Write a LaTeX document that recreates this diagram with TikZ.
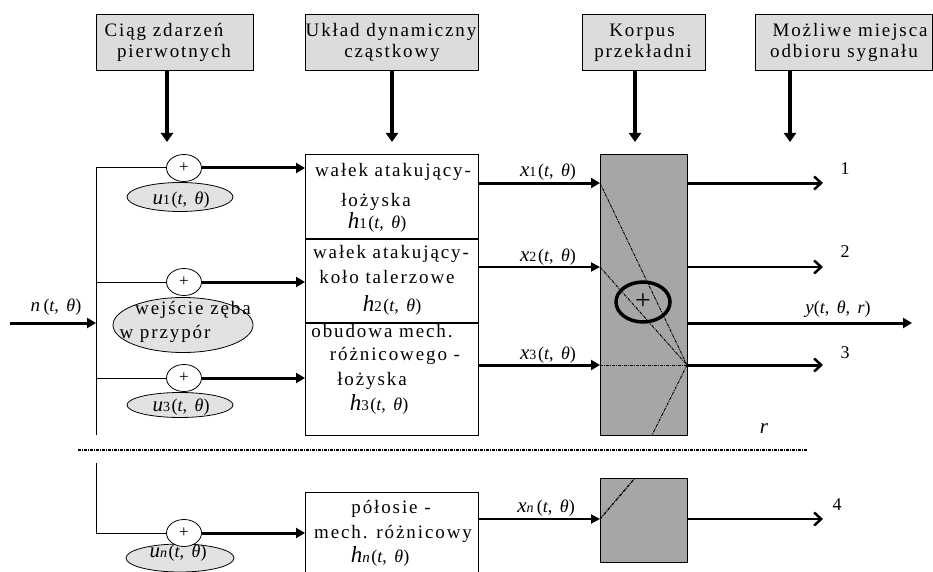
\documentclass[tikz,border=0pt]{standalone}
\usepackage{fontspec}
\setmainfont{Liberation Serif}
\newfontfamily\spaced[LetterSpace=10]{Liberation Serif}
\usetikzlibrary{shapes.geometric,arrows.meta,calc}
\newcommand\fs[1]{\fontsize{#1}{#1}\selectfont}
\newcommand\tth{\fs{18}(\textit{t},\, \textit{θ})}
\newcommand\vlab[2]{{\fs{21}\itshape #1}{\fs{14}#2}\,\tth}
\newcommand\hlab[1]{{\fs{23}\itshape h}{\fs{15}#1}\,\tth}
\definecolor{hdr}{HTML}{DCDCDC}
\definecolor{ell}{HTML}{E2E2E2}
\definecolor{korp}{HTML}{A6A6A6}
\begin{document}
\begin{tikzpicture}[x=1pt,y=-1pt,
  every node/.style={inner sep=0pt, outer sep=0pt},
  head/.style={draw, line width=1pt, fill=hdr, minimum height=56pt},
  txt/.style={anchor=base, font=\spaced\fs{19}},
  lab/.style={anchor=base},
  plus/.style={draw, ellipse, fill=white, line width=0.8pt, minimum width=35pt, minimum height=27pt, font=\fs{17}},
  gell/.style={draw, ellipse, fill=ell, line width=0.8pt},
  bigarrow/.style={line width=4pt, -{Triangle[length=9pt,width=12pt]}},
  midarrow/.style={line width=3pt, -{Triangle[length=9pt,width=10pt]}},
  thinarrow/.style={line width=1.8pt, -{Triangle[length=9pt,width=9pt]}},
  outarrow/.style={line width=#1, -{Straight Barb[length=7pt,width=13pt,line width=2.5pt]}},
  inner/.style={line width=0.9pt, dash pattern=on 3pt off 1pt on 1pt off 1pt},
  box/.style={draw, line width=1pt, fill=white},
  gbox/.style={draw, line width=1pt, fill=korp}]
\useasboundingbox (0,0) rectangle (933,572);
\clip (0,0) rectangle (933,572);

% header boxes
\node[head, minimum width=157pt] (h1) at (174.5,43) {};
\node[head, minimum width=173pt] (h2) at (391.5,43) {};
\node[head, minimum width=123pt] (h3) at (643.5,43) {};
\node[head, minimum width=177pt] (h4) at (843.5,43) {};
\node[txt] (h1a) at (164,37) {Ciąg zdarzeń};
\node[txt] (h1b) at (174,58) {pierwotnych};
\node[txt] (h2a) at (391,37) {Układ dynamiczny};
\node[txt] (h2b) at (392,58) {cząstkowy};
\node[txt] (h3a) at (642,37) {Korpus};
\node[txt] (h3b) at (643,58) {przekładni};
\node[txt] (h4a) at (850,37) {Możliwe miejsca};
\node[txt] (h4b) at (844,58) {odbioru sygnału};
\coordinate (a1) at (167,142);
\coordinate (a2) at (392,142);
\coordinate (a3) at (635,142);
\coordinate (a4) at (790,142);
\draw[bigarrow] (h1.south -| a1) -- (a1);
\draw[bigarrow] (h2.south -| a2) -- (a2);
\draw[bigarrow] (h3.south -| a3) -- (a3);
\draw[bigarrow] (h4.south -| a4) -- (a4);

% bus
\coordinate (busT) at (96,168);
\coordinate (busB) at (96,435);
\coordinate (busL) at (96,463);
\coordinate (busN) at (96,533);
\draw[line width=1pt] (busT) -- (busB);
\draw[line width=1pt] (busL) -- (busN);
\coordinate (inL) at (10,323);
\draw[midarrow] (inL) -- (inL -| busT);
\node[lab] (nlab) at (56,311) {{\fs{19}\itshape n}\,\,\tth};

% separator
\coordinate (sepL) at (78,450);
\coordinate (sepR) at (808,450);
\draw[line width=1.2pt, dash pattern=on 3pt off 1pt on 1pt off 1pt] (sepL) -- (sepR);

% gray ellipses
\node[gell, minimum width=106pt, minimum height=29pt] (u1) at (180,197) {};
\node[gell, minimum width=140pt, minimum height=55pt] (we) at (183,325) {};
\node[gell, minimum width=106pt, minimum height=25pt] (u3) at (180,405) {};
\node[gell, minimum width=108pt, minimum height=28pt] (un) at (180,558) {};
\node[lab] (u1t) at (181,204) {\vlab{u}{1}};
\node[lab] (u3t) at (181,411) {\vlab{u}{3}};

% plus nodes
\node[plus] (p1) at (184,168) {+};
\node[plus] (p2) at (184,282) {+};
\node[plus] (p3) at (184,378) {+};
\node[plus] (pn) at (184,533) {+};
\node[lab] (unt) at (178,557) {{\fs{21}\itshape u}{\fs{14}\itshape n}\,\tth};
\node[txt] (we1) at (193,314) {wejście zęba};
\node[txt] (we2) at (165,338) {w przypór};
\draw[line width=1pt] (busT) -- (p1.west);
\draw[line width=1pt] (p2 -| busT) -- (p2.west);
\draw[line width=1pt] (p3 -| busT) -- (p3.west);
\draw[line width=1pt] (busN) -- (pn.west);

% big box
\node[box, minimum width=173pt, minimum height=280pt] (B) at (391.5,295) {};
\node[txt] (t1a) at (393,176) {wałek atakujący-};
\node[txt] (t1b) at (376,206) {łożyska};
\node[lab] (t1c) at (377,228) {\hlab{1}};
\node[txt] (t2a) at (391,258) {wałek atakujący-};
\node[txt] (t2b) at (387,283) {koło talerzowe};
\node[lab] (t2c) at (392,311) {\hlab{2}};
\node[txt] (t3a) at (382,337) {obudowa mech.};
\node[txt] (t3b) at (395,360) {różnicowego -};
\node[txt] (t3c) at (372,385) {łożyska};
\node[lab] (t3d) at (379,410) {\hlab{3}};
\draw[line width=1.2pt] (B.west |- 0,239) -- (B.east |- 0,239);
\draw[line width=1.2pt] (B.west |- 0,323) -- (B.east |- 0,323);
\draw[midarrow] (p1.east) -- (p1.east -| B.west);
\draw[midarrow] (p2.east) -- (p2.east -| B.west);
\draw[midarrow] (p3.east) -- (p3.east -| B.west);

% lower box
\node[box, minimum width=173pt, minimum height=110pt] (N) at (391.5,547) {};
\node[txt] (tna) at (391,513) {półosie -};
\node[txt] (tnb) at (393,538) {mech. różnicowy};
\node[lab] (tnc) at (380,562) {{\fs{23}\itshape h}{\fs{15}\itshape n}\,\tth};
\draw[midarrow] (pn.east) -- (pn.east -| N.west);

% korpus
\node[gbox, minimum width=87pt, minimum height=280pt] (G) at (643.5,295) {};
\coordinate (g1) at (600,183);
\coordinate (g2) at (600,267);
\coordinate (g3) at (600,365);
\coordinate (gr) at (687,365);
\coordinate (gb) at (652,435);
\draw[midarrow] (B.east |- g1) -- (g1);
\draw[thinarrow] (B.east |- g2) -- (g2);
\draw[midarrow] (B.east |- g3) -- (g3);
\node[lab] (x1) at (548,176) {\vlab{x}{1}};
\node[lab] (x2) at (548,261) {\vlab{x}{2}};
\node[lab] (x3) at (548,359) {\vlab{x}{3}};
\draw[inner] (g1) -- (gr);
\draw[inner] (g2) -- (gr);
\draw[inner] (g3) -- (gr);
\draw[inner] (gr) -- (gb);
\node[draw, ellipse, line width=3.5pt, minimum width=54pt, minimum height=40pt, font=\fs{28}] (S) at (643,302) {+};

% outputs
\coordinate (o1) at (823,183);
\coordinate (o2) at (823,267);
\coordinate (oy) at (912,323);
\coordinate (o3) at (823,365);
\draw[outarrow=3pt] (G.east |- o1) -- (o1);
\draw[outarrow=2pt] (G.east |- o2) -- (o2);
\draw[line width=3pt, -{Triangle[length=9pt,width=10pt]}] (G.east |- oy) -- (oy);
\draw[outarrow=3pt] (G.east |- o3) -- (o3);
\node[lab] (l1) at (845,175) {\fs{18}1};
\node[lab] (l2) at (845,257) {\fs{18}2};
\node[lab] (l3) at (845,358) {\fs{18}3};
\node[lab] (ly) at (838,313) {{\fs{19}\itshape y}\fs{18}(\textit{t},\, \textit{θ},\, \textit{r})};
\node[lab] (lr) at (764,433) {\fs{21}\itshape r};

% lower korpus
\node[gbox, minimum width=87pt, minimum height=84pt] (GN) at (643.5,520) {};
\coordinate (gn) at (600,519);
\coordinate (gnt) at (635,478);
\coordinate (o4) at (823,519);
\draw[thinarrow] (N.east |- gn) -- (gn);
\draw[inner, line width=1.3pt] (gn) -- (gnt);
\draw[outarrow=2.5pt] (GN.east |- o4) -- (o4);
\node[lab] (xn) at (546,512) {{\fs{21}\itshape x}{\fs{14}\itshape n}\,\,\tth};
\node[lab] (l4) at (837,510) {\fs{18}4};
\end{tikzpicture}
\end{document}
